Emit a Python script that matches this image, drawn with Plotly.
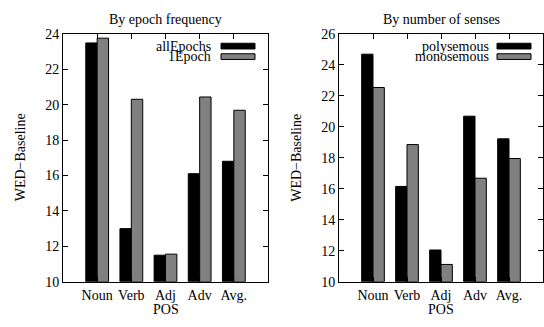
import plotly.graph_objects as go

W, H = 544, 327

categories = ["Noun", "Verb", "Adj", "Adv", "Avg."]

# Left panel: By epoch frequency
all_epochs = [23.48, 13.0, 11.5, 16.1, 16.8]
one_epoch = [23.75, 20.3, 11.56, 20.43, 19.68]

# Right panel: By number of senses
polysemous = [24.68, 16.15, 12.05, 20.68, 19.22]
monosemous = [22.53, 18.85, 11.12, 16.68, 17.95]

left_y_ticks = [10, 12, 14, 16, 18, 20, 22, 24]
right_y_ticks = [10, 12, 14, 16, 18, 20, 22, 24, 26]

BLACK = "#000000"
GRAY = "#808080"
FONT = "Liberation Serif"
FS = 14

def px(x):
    return x / W

def py(y):
    return 1 - y / H

fig = go.Figure()

xs = list(range(len(categories)))

def add_bars(vals, color, name, xa, ya):
    fig.add_trace(go.Bar(
        x=xs, y=[v - 10 for v in vals], base=10, name=name,
        marker=dict(color=color, line=dict(color="#000000", width=1)),
        xaxis=xa, yaxis=ya, showlegend=False,
        offsetgroup=name,
    ))

add_bars(all_epochs, BLACK, "allEpochs", "x", "y")
add_bars(one_epoch, GRAY, "1Epoch", "x", "y")
add_bars(polysemous, BLACK, "polysemous", "x2", "y2")
add_bars(monosemous, GRAY, "monosemous", "x2", "y2")

axis_common = dict(
    showline=True, linecolor="black", linewidth=1, mirror="ticks",
    ticks="inside", ticklen=5, tickcolor="black", tickwidth=1,
    showgrid=False, zeroline=False,
    tickfont=dict(family=FONT, size=FS, color="black"),
)

ydom = [py(288), py(28)]

fig.update_layout(
    width=W, height=H,
    margin=dict(l=0, r=0, t=0, b=0),
    paper_bgcolor="white", plot_bgcolor="white",
    barmode="group", bargap=1/3, bargroupgap=0,
    font=dict(family=FONT, size=FS, color="black"),
    xaxis=dict(domain=[px(63), px(268)], range=[-1, 5], anchor="y",
               tickmode="array", tickvals=xs, ticktext=categories, **axis_common),
    yaxis=dict(domain=ydom, range=[10, 24], anchor="x",
               tickmode="array", tickvals=left_y_ticks, **axis_common),
    xaxis2=dict(domain=[px(339), px(543)], range=[-1, 5], anchor="y2",
                tickmode="array", tickvals=xs, ticktext=categories, **axis_common),
    yaxis2=dict(domain=ydom, range=[10, 26], anchor="x2",
                tickmode="array", tickvals=right_y_ticks, **axis_common),
)

ann = []
def text(x, y, t, xanchor="center", angle=0):
    ann.append(dict(x=px(x), y=py(y), xref="paper", yref="paper", text=t,
                    showarrow=False, xanchor=xanchor, yanchor="middle",
                    textangle=angle, font=dict(family=FONT, size=FS, color="black")))

text(165.5, 13, "By epoch frequency")
text(441, 13, "By number of senses")
text(20.5, 158, "WED−Baseline", angle=-90)
text(297, 158, "WED−Baseline", angle=-90)
text(165.5, 317, "POS")
text(441, 317, "POS")
text(213, 41, "allEpochs", xanchor="right")
text(213, 52, "1Epoch", xanchor="right")
text(491, 41, "polysemous", xanchor="right")
text(491, 52, "monosemous", xanchor="right")

shapes = []
def key(x0, x1, y0, y1, color):
    shapes.append(dict(type="rect", xref="paper", yref="paper",
                       x0=px(x0), x1=px(x1), y0=py(y1), y1=py(y0),
                       fillcolor=color, line=dict(color="black", width=1)))

key(221, 255, 38, 44, BLACK)
key(221, 255, 49, 55, GRAY)
key(497, 531, 38, 44, BLACK)
key(497, 531, 49, 55, GRAY)

fig.update_layout(annotations=ann, shapes=shapes)

fig.write_html(
    "out.html",
    config={"displayModeBar": False},
    post_script="document.body.style.margin='0px';document.body.style.overflow='hidden';",
)
